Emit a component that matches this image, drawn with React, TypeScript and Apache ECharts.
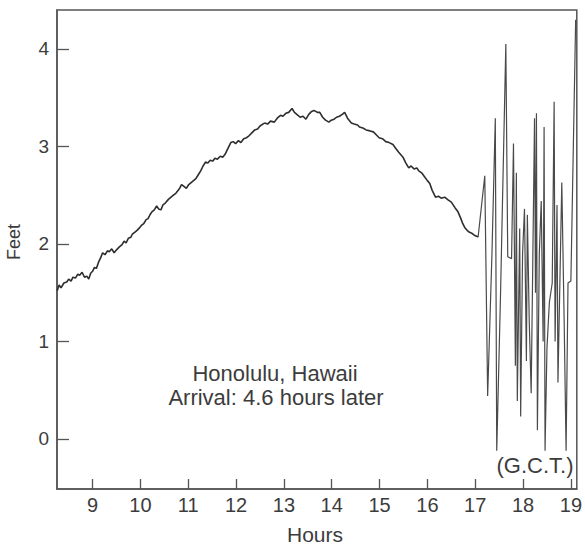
import React, { useEffect, useRef } from "react";
import * as echarts from "echarts";

// Tide-gauge record, smooth tidal section (hours GCT, feet)
const tideHours = [
  8.26, 8.30, 8.34, 8.40, 8.46, 8.50, 8.55, 8.59, 8.64, 8.69, 8.73, 8.78, 8.83, 8.88, 8.92, 8.96,
  9.00, 9.04, 9.08, 9.13, 9.17, 9.21, 9.26, 9.31, 9.35, 9.40, 9.45, 9.50, 9.56, 9.61, 9.66, 9.70,
  9.75, 9.80, 9.83, 9.88, 9.93, 9.97, 10.02, 10.07, 10.12, 10.16, 10.20, 10.24, 10.29, 10.34, 10.38, 10.43,
  10.47, 10.52, 10.59, 10.64, 10.69, 10.74, 10.79, 10.83, 10.86, 10.91, 10.96, 11.01, 11.06, 11.11, 11.16, 11.21,
  11.26, 11.31, 11.36, 11.41, 11.46, 11.51, 11.56, 11.61, 11.67, 11.72, 11.77, 11.82, 11.89, 11.94, 11.99, 12.05,
  12.10, 12.16, 12.22, 12.27, 12.33, 12.39, 12.45, 12.50, 12.56, 12.60, 12.66, 12.72, 12.80, 12.86, 12.93, 12.98,
  13.04, 13.10, 13.17, 13.22, 13.27, 13.34, 13.40, 13.46, 13.52, 13.58, 13.63, 13.70, 13.75, 13.81, 13.87, 13.94,
  13.99, 14.05, 14.10, 14.16, 14.22, 14.27, 14.33, 14.41, 14.47, 14.54, 14.58, 14.65, 14.72, 14.80, 14.87, 14.93,
  14.99, 15.06, 15.13, 15.20, 15.28, 15.34, 15.40, 15.49, 15.55, 15.61, 15.66, 15.72, 15.78, 15.82, 15.88, 15.94,
  16.00, 16.05, 16.10, 16.17, 16.23, 16.29, 16.36, 16.44, 16.50, 16.58, 16.64, 16.70, 16.73, 16.78, 16.83, 16.88,
  16.93, 16.98, 17.03, 17.06,
];
const tideFeet = [
  1.52, 1.58, 1.55, 1.60, 1.61, 1.64, 1.62, 1.66, 1.65, 1.69, 1.68, 1.71, 1.66, 1.67, 1.64, 1.70,
  1.72, 1.76, 1.75, 1.82, 1.86, 1.91, 1.89, 1.93, 1.92, 1.95, 1.91, 1.94, 1.97, 1.99, 2.03, 2.01,
  2.06, 2.07, 2.10, 2.12, 2.14, 2.16, 2.19, 2.21, 2.25, 2.26, 2.30, 2.33, 2.35, 2.39, 2.36, 2.35,
  2.40, 2.42, 2.46, 2.48, 2.50, 2.52, 2.55, 2.58, 2.61, 2.59, 2.57, 2.61, 2.63, 2.65, 2.67, 2.71,
  2.75, 2.80, 2.84, 2.83, 2.86, 2.85, 2.88, 2.87, 2.90, 2.89, 2.92, 2.97, 3.04, 3.05, 3.03, 3.06,
  3.04, 3.08, 3.09, 3.11, 3.14, 3.17, 3.18, 3.21, 3.23, 3.24, 3.23, 3.26, 3.25, 3.29, 3.32, 3.31,
  3.34, 3.35, 3.39, 3.35, 3.33, 3.30, 3.31, 3.28, 3.33, 3.36, 3.37, 3.35, 3.35, 3.30, 3.27, 3.25,
  3.27, 3.28, 3.30, 3.31, 3.33, 3.35, 3.29, 3.24, 3.23, 3.22, 3.20, 3.19, 3.17, 3.16, 3.15, 3.12,
  3.09, 3.08, 3.05, 3.04, 3.02, 2.98, 2.94, 2.89, 2.83, 2.78, 2.80, 2.77, 2.78, 2.75, 2.73, 2.69,
  2.65, 2.62, 2.55, 2.48, 2.49, 2.47, 2.48, 2.45, 2.43, 2.37, 2.33, 2.26, 2.22, 2.17, 2.14, 2.12,
  2.11, 2.09, 2.08, 2.07,
];

// Tsunami arrival section (hours GCT, feet)
const surgeHours = [
  17.20, 17.26, 17.35, 17.42, 17.45, 17.53, 17.64, 17.68, 17.76, 17.80, 17.84, 17.86, 17.88, 17.93,
  17.95, 17.99, 18.03, 18.07, 18.09, 18.13, 18.17, 18.24, 18.26, 18.28, 18.30, 18.34, 18.38, 18.42,
  18.44, 18.46, 18.50, 18.55, 18.61, 18.65, 18.67, 18.71, 18.73, 18.81, 18.86, 18.90, 18.94, 19.00, 19.10,
];
const surgeFeet = [
  2.70, 0.44, 1.90, 3.29, -0.12, 1.50, 4.05, 1.87, 1.85, 3.03, 0.75, 2.73, 0.39, 2.16,
  0.23, 1.90, 2.36, 0.80, 2.30, 1.20, 0.47, 3.29, 1.50, 3.34, 0.09, 1.90, 2.44, 1.00,
  3.20, -0.12, 0.93, 1.40, 1.60, 3.46, 1.00, 2.40, 0.58, 2.63, 1.20, -0.12, 1.60, 1.62, 4.30,
];

const xTicks = [9, 10, 11, 12, 13, 14, 15, 16, 17, 18, 19];
const yTicks = [0, 1, 2, 3, 4];

const FONT = '"Liberation Sans", Arial, Helvetica, sans-serif';
const TEXT = "#3c3c3c";
const AXIS = "#555";

export default function App() {
  const ref = useRef<HTMLDivElement>(null);
  useEffect(() => {
    if (!ref.current) return;
    const chart = echarts.init(ref.current, null, { renderer: "svg" });
    const tide = tideHours.map((h, i) => [h, tideFeet[i]]);
    const surge = [[tideHours[tideHours.length - 1], tideFeet[tideFeet.length - 1]]].concat(
      surgeHours.map((h, i) => [h, surgeFeet[i]])
    );
    const txt = (text: string, x: number, y: number, size: number, extra: any = {}) => ({
      type: "text",
      x,
      y,
      ...extra,
      style: {
        text,
        font: `${size}px ${FONT}`,
        fill: TEXT,
        textAlign: "center",
        textVerticalAlign: "middle",
      },
    });
    chart.setOption({
      animation: false,
      backgroundColor: "#fff",
      grid: {
        left: 57,
        right: 2,
        top: 10,
        bottom: 63,
        show: true,
        borderColor: AXIS,
        borderWidth: 1.5,
        backgroundColor: "transparent",
      },
      xAxis: {
        type: "value",
        min: 8.256,
        max: 19.124,
        axisLine: { show: true, onZero: false, lineStyle: { color: AXIS, width: 1.5 } },
        axisTick: {
          show: true,
          inside: true,
          length: 10,
          customValues: xTicks,
          lineStyle: { color: AXIS, width: 1.3 },
        },
        axisLabel: {
          customValues: xTicks,
          fontSize: 20,
          color: TEXT,
          fontFamily: FONT,
          margin: 6,
        },
        splitLine: { show: false },
      },
      yAxis: {
        type: "value",
        min: -0.513,
        max: 4.4,
        axisLine: { show: true, onZero: false, lineStyle: { color: AXIS, width: 1.5 } },
        axisTick: {
          show: true,
          inside: true,
          length: 12,
          customValues: yTicks,
          lineStyle: { color: AXIS, width: 1.3 },
        },
        axisLabel: {
          customValues: yTicks,
          fontSize: 19,
          color: TEXT,
          fontFamily: FONT,
          margin: 8,
        },
        splitLine: { show: false },
      },
      series: [
        {
          type: "line",
          data: tide,
          showSymbol: false,
          lineStyle: { color: "#2e2e2e", width: 1.6 },
          clip: true,
        },
        {
          type: "line",
          data: surge,
          showSymbol: false,
          lineStyle: { color: "#4a4a4a", width: 1.2 },
          clip: true,
        },
      ],
      graphic: [
        txt("Hours", 315, 534, 21),
        txt("Feet", 14, 242, 18, { rotation: Math.PI / 2 }),
        txt("Honolulu, Hawaii", 275, 373, 22),
        txt("Arrival: 4.6 hours later", 276, 397, 22),
        txt("(G.C.T.)", 535, 465, 22),
      ],
    });
    return () => chart.dispose();
  }, []);
  return (
    <div
      ref={ref}
      style={{ position: "fixed", left: 0, top: 0, width: 585, height: 552, background: "#fff" }}
    />
  );
}
